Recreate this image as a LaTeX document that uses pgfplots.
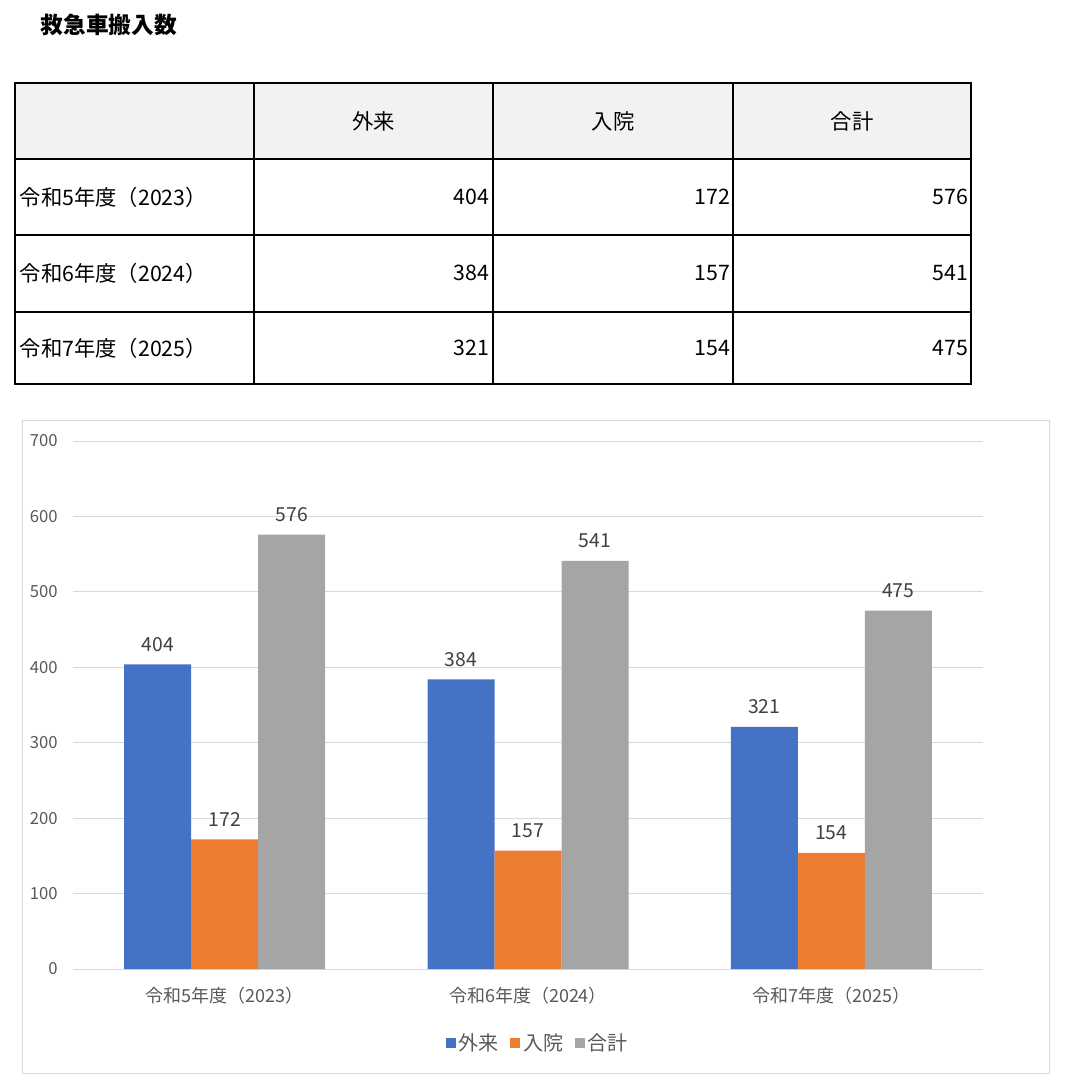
\documentclass[border=0pt]{standalone}
\usepackage{pgfplots}
\pgfplotsset{compat=1.18}
\usepackage{fontspec}
\setmainfont{Noto Sans CJK JP}
\definecolor{cblue}{HTML}{4472C4}
\definecolor{corange}{HTML}{ED7D31}
\definecolor{cgray}{HTML}{A5A5A5}
\definecolor{cgrid}{HTML}{D9D9D9}
\definecolor{ctick}{HTML}{595959}
\definecolor{clab}{HTML}{404040}
\begin{document}
\begin{tikzpicture}
\begin{scope}[x=0.75pt,y=-0.75pt]
\path[fill=white] (0,0) rectangle (1066,1092);
% title
\node[anchor=west,font=\fontsize{17pt}{18pt}\selectfont\bfseries] at (36,25) {救急車搬入数};
% table
\fill[black!5] (15,83) rectangle (971,159);
\draw[line width=1.5pt] (15,83) rectangle (971,384);
\foreach \yy in {159,235,312} \draw[line width=1.5pt] (15,\yy) -- (971,\yy);
\foreach \xx in {254,493,733} \draw[line width=1.5pt] (\xx,83) -- (\xx,384);
\begin{scope}[every node/.style={font=\fontsize{16pt}{17pt}\selectfont}]
\node at (373.5,121) {外来};
\node at (613,121) {入院};
\node at (852,121) {合計};
\node[anchor=west] at (15,197) {令和5年度（2023）};
\node[anchor=west] at (15,273) {令和6年度（2024）};
\node[anchor=west] at (15,348) {令和7年度（2025）};
\node[anchor=east] at (494,197) {404};
\node[anchor=east] at (735,197) {172};
\node[anchor=east] at (973,197) {576};
\node[anchor=east] at (494,273) {384};
\node[anchor=east] at (735,273) {157};
\node[anchor=east] at (973,273) {541};
\node[anchor=east] at (494,348) {321};
\node[anchor=east] at (735,348) {154};
\node[anchor=east] at (973,348) {475};
\end{scope}
% chart border
\draw[cgrid,line width=0.75pt] (22,420) rectangle (1049,1073);
\end{scope}
\begin{axis}[
  at={(54.75pt,-726.75pt)}, anchor=south west,
  scale only axis, width=682.5pt, height=396pt,
  ybar=0pt, bar width=50.25pt,
  xmin=-0.5, xmax=2.5, ymin=0, ymax=700,
  xtick={0,1,2},
  xticklabels={令和5年度（2023）,令和6年度（2024）,令和7年度（2025）},
  ytick={0,100,...,700},
  xmajorgrids=false, ymajorgrids=true,
  y grid style={draw=cgrid,line width=0.75pt},
  axis line style={draw=none},
  major tick length=0pt,
  tick label style={text=ctick},
  yticklabel style={font=\fontsize{12.5pt}{14pt}\selectfont, xshift=-8pt},
  xticklabel style={font=\fontsize{13.5pt}{15pt}\selectfont, yshift=-10pt},
  /pgf/number format/assume math mode=true,
  nodes near coords,
  nodes near coords style={text=clab, font=\fontsize{14.5pt}{16pt}\selectfont, yshift=6pt},
  legend style={at={(0.511,-0.14)}, anchor=center, draw=none, legend columns=3,
    font=\fontsize{15pt}{16pt}\selectfont, text=ctick,
    /tikz/every even column/.append style={column sep=7pt}},
  legend image code/.code={\fill[#1] (0pt,-4pt) rectangle (7.5pt,4pt);},
]
\addplot[fill=cblue, draw=none] coordinates {(0,404) (1,384) (2,321)};
\addplot[fill=corange, draw=none] coordinates {(0,172) (1,157) (2,154)};
\addplot[fill=cgray, draw=none] coordinates {(0,576) (1,541) (2,475)};
\legend{外来,入院,合計}
\end{axis}
\end{tikzpicture}
\end{document}
